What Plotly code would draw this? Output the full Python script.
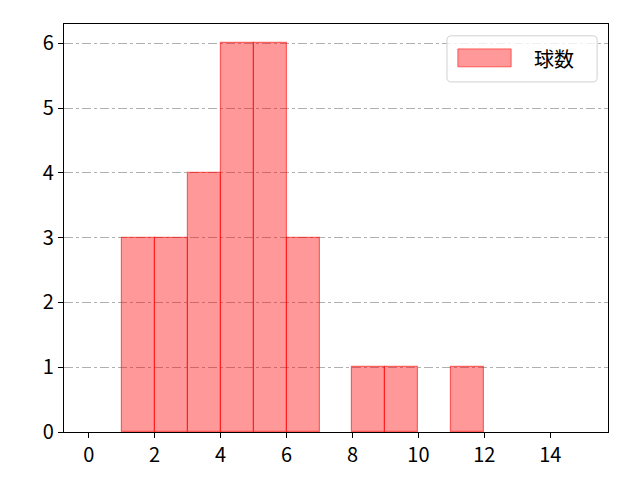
import plotly.graph_objects as go

# ヒストグラムのビン(左端)と度数
bin_left = [1, 2, 3, 4, 5, 6, 7, 8, 9, 10, 11, 12, 13, 14]
counts = [3, 3, 4, 6, 6, 3, 0, 1, 1, 0, 1, 0, 0, 0]
series_name = "球数"
x_ticks = [0, 2, 4, 6, 8, 10, 12, 14]
y_ticks = [0, 1, 2, 3, 4, 5, 6]

font_family = "Noto Sans CJK JP, DejaVu Sans, sans-serif"
fill = "rgba(255,0,0,0.4)"
edge = "rgba(255,0,0,0.55)"

# 度数0のビンは描かない
xs = [b + 0.5 for b, c in zip(bin_left, counts) if c > 0]
ys = [c for c in counts if c > 0]

fig = go.Figure()
fig.add_trace(
    go.Bar(
        x=xs,
        y=ys,
        width=1,
        name=series_name,
        marker=dict(color=fill, line=dict(color=edge, width=1.2)),
        showlegend=False,
    )
)

axis_common = dict(
    showline=True,
    linecolor="black",
    linewidth=1.2,
    mirror=True,
    ticks="outside",
    ticklen=5,
    tickwidth=1.2,
    tickcolor="black",
    zeroline=False,
    tickfont=dict(size=20, color="black", family=font_family),
)

fig.update_xaxes(range=[-0.75, 15.75], tickvals=x_ticks, showgrid=False, **axis_common)
fig.update_yaxes(
    range=[0, 6.3],
    tickvals=y_ticks,
    showgrid=True,
    gridcolor="#b0b0b0",
    gridwidth=1,
    griddash="dashdot",
    **axis_common,
)

# matplotlib風の凡例(角丸の枠+横長の色見本)
x0, x1, y0, y1, r = 0.704, 0.980, 0.858, 0.971, 0.008
ry = r * 544 / 408
fig.add_shape(
    type="path",
    xref="paper",
    yref="paper",
    path=(
        f"M {x0 + r},{y0} L {x1 - r},{y0} Q {x1},{y0} {x1},{y0 + ry} "
        f"L {x1},{y1 - ry} Q {x1},{y1} {x1 - r},{y1} "
        f"L {x0 + r},{y1} Q {x0},{y1} {x0},{y1 - ry} "
        f"L {x0},{y0 + ry} Q {x0},{y0} {x0 + r},{y0} Z"
    ),
    fillcolor="rgba(255,255,255,0.8)",
    line=dict(color="#d0d0d0", width=1),
)
fig.add_shape(
    type="rect",
    xref="paper",
    yref="paper",
    x0=0.724,
    x1=0.822,
    y0=0.895,
    y1=0.939,
    fillcolor=fill,
    line=dict(color=edge, width=1),
)
fig.add_annotation(
    x=0.86,
    y=0.915,
    xref="paper",
    yref="paper",
    xanchor="left",
    yanchor="middle",
    text=series_name,
    showarrow=False,
    font=dict(size=20, color="black", family=font_family),
)

fig.update_layout(
    width=640,
    height=480,
    margin=dict(l=56, r=40, t=16, b=56),
    plot_bgcolor="white",
    paper_bgcolor="white",
    font=dict(family=font_family, size=20, color="black"),
    bargap=0,
)

fig.write_html("out.html")
